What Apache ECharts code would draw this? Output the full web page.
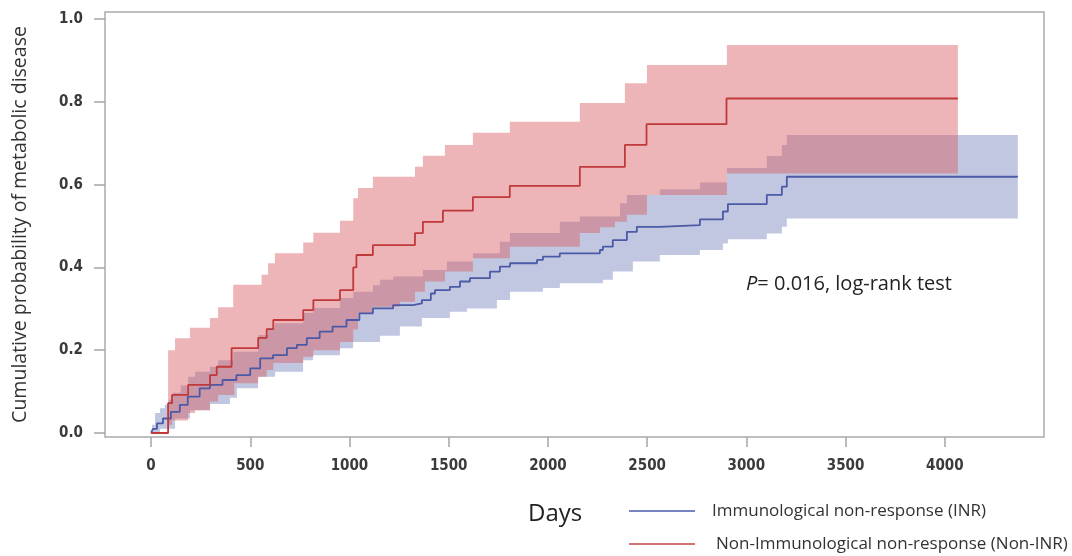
<!DOCTYPE html>
<html>
<head>
<meta charset="utf-8">
<script src="https://cdn.jsdelivr.net/npm/echarts@6/dist/echarts.min.js"></script>
<style>html,body{margin:0;padding:0;background:#fff}#main{width:1072px;height:556px}</style>
</head>
<body>
<div id="main"></div>
<script>
// tick labels
var xTicks = [0, 500, 1000, 1500, 2000, 2500, 3000, 3500, 4000];
var yTicks = [0, 0.2, 0.4, 0.6, 0.8, 1.0];

// step points [day, cumulative probability]
var inrEst = [[0,0],[10,0.01],[30,0.023],[60,0.035],[100,0.051],[145,0.068],[185,0.088],[245,0.108],[297,0.116],[360,0.128],[430,0.14],[500,0.156],[550,0.18],[615,0.188],[685,0.205],[735,0.213],[785,0.229],[850,0.245],[915,0.257],[985,0.273],[1050,0.289],[1118,0.301],[1220,0.309],[1320,0.313],[1365,0.321],[1410,0.337],[1431,0.345],[1506,0.353],[1557,0.366],[1607,0.374],[1708,0.39],[1758,0.402],[1809,0.41],[1945,0.418],[1975,0.426],[2060,0.434],[2262,0.442],[2277,0.45],[2327,0.466],[2398,0.486],[2448,0.498],[2564,0.502],[2766,0.516],[2882,0.535],[2907,0.553],[3103,0.575],[3179,0.595],[3204,0.619],[4368,0.619]];
var inrUp = [[0,0],[5,0.02],[20,0.048],[45,0.06],[70,0.068],[90,0.08],[111,0.097],[150,0.115],[187,0.136],[222,0.148],[297,0.16],[338,0.176],[414,0.196],[540,0.237],[590,0.253],[624,0.265],[767,0.29],[818,0.302],[952,0.326],[1019,0.341],[1118,0.357],[1154,0.37],[1220,0.378],[1370,0.394],[1491,0.414],[1622,0.434],[1758,0.462],[1809,0.483],[2060,0.51],[2161,0.523],[2363,0.555],[2398,0.575],[2564,0.589],[2766,0.605],[2902,0.64],[3103,0.669],[3179,0.696],[3204,0.72],[4368,0.72]];
var inrLow = [[0,0],[45,0.01],[121,0.035],[196,0.055],[297,0.07],[398,0.085],[433,0.108],[539,0.136],[625,0.148],[766,0.176],[816,0.188],[952,0.205],[1018,0.22],[1154,0.235],[1254,0.257],[1365,0.278],[1506,0.293],[1592,0.301],[1743,0.321],[1809,0.341],[1975,0.35],[2060,0.362],[2277,0.37],[2327,0.39],[2428,0.414],[2564,0.43],[2766,0.442],[2882,0.458],[2907,0.468],[3103,0.482],[3179,0.498],[3204,0.518],[4368,0.518]];

var nonEst = [[0,0],[86,0.072],[106,0.092],[187,0.116],[297,0.14],[331,0.16],[406,0.205],[540,0.23],[583,0.251],[616,0.273],[767,0.297],[818,0.321],[952,0.345],[1019,0.40],[1035,0.43],[1118,0.454],[1330,0.483],[1370,0.51],[1471,0.537],[1622,0.57],[1808,0.597],[2161,0.643],[2388,0.696],[2497,0.746],[2900,0.808],[4066,0.808]];
var nonUp = [[0,0],[86,0.2],[121,0.229],[196,0.254],[297,0.278],[338,0.304],[414,0.358],[557,0.382],[590,0.41],[624,0.434],[767,0.46],[818,0.484],[952,0.513],[1019,0.567],[1043,0.592],[1118,0.619],[1330,0.643],[1370,0.67],[1481,0.696],[1622,0.725],[1808,0.752],[2161,0.797],[2388,0.845],[2499,0.889],[2902,0.937],[4066,0.937]];
var nonLow = [[0,0],[86,0.02],[106,0.03],[187,0.048],[222,0.055],[297,0.076],[338,0.092],[420,0.12],[540,0.136],[583,0.152],[616,0.169],[767,0.184],[818,0.2],[952,0.22],[1019,0.25],[1043,0.29],[1118,0.305],[1254,0.317],[1330,0.341],[1380,0.366],[1481,0.39],[1622,0.422],[1808,0.45],[2161,0.483],[2262,0.497],[2338,0.51],[2398,0.527],[2499,0.575],[2902,0.627],[4066,0.627]];

var nameInr = 'Immunological non-response (INR)';
var nameNon = 'Non-Immunological non-response (Non-INR)';

var myChart = echarts.init(document.getElementById('main'));

// confidence band as a stepped polygon: upper edge forward, lower edge back
function band(low, up, color) {
    return {
        type: 'custom',
        silent: true,
        data: [[0, 0]],
        renderItem: function (params, api) {
            var pts = [];
            for (var i = 0; i < up.length; i++) {
                if (i > 0) pts.push(api.coord([up[i][0], up[i - 1][1]]));
                pts.push(api.coord(up[i]));
            }
            for (var j = low.length - 1; j >= 0; j--) {
                pts.push(api.coord(low[j]));
                if (j > 0) pts.push(api.coord([low[j][0], low[j - 1][1]]));
            }
            return {type: 'polygon', shape: {points: pts}, style: {fill: color}};
        }
    };
}

var txtFont = '"Open Sans", "Noto Sans", sans-serif';
var tickFont = '"Liberation Sans Narrow", "DejaVu Sans Condensed", sans-serif';

function legendAt(name, top, color, pad) {
    return {
        data: [name],
        left: 624, top: top,
        icon: 'rect',
        itemWidth: 66, itemHeight: 2,
        itemStyle: {color: color},
        selectedMode: false,
        textStyle: {fontSize: 17, color: '#333', fontFamily: txtFont, lineHeight: 18, padding: [0, 0, 0, pad]}
    };
}

var option = {
    animation: false,
    grid: {
        left: 105, right: 28, top: 12, bottom: 119,
        show: true, borderColor: '#ababab', borderWidth: 1.5
    },
    xAxis: {
        type: 'value',
        min: -232, max: 4500,
        splitLine: {show: false},
        axisLine: {show: false, onZero: false},
        axisTick: {show: true, customValues: xTicks, length: 10, lineStyle: {color: '#a5a5a5', width: 1.5}},
        axisLabel: {
            customValues: xTicks, margin: 22, fontSize: 15, fontWeight: 'bold', color: '#3a3a3a', fontFamily: tickFont,
            formatter: function (v) { return String(v); }
        }
    },
    yAxis: {
        type: 'value',
        min: -0.0097, max: 1.017,
        splitLine: {show: false},
        axisLine: {show: false, onZero: false},
        axisTick: {show: true, customValues: yTicks, length: 11, lineStyle: {color: '#a5a5a5', width: 1.5}},
        axisLabel: {
            customValues: yTicks, margin: 22, fontSize: 15, fontWeight: 'bold', color: '#3a3a3a', fontFamily: tickFont,
            formatter: function (v) { return v.toFixed(1); }
        },
        name: 'Cumulative probability of metabolic disease',
        nameLocation: 'middle',
        nameGap: 75,
        nameTextStyle: {fontSize: 19.5, color: '#333', fontFamily: txtFont}
    },
    legend: [
        legendAt(nameInr, 497, '#7884c2', 12),
        legendAt(nameNon, 530, '#d07474', 16)
    ],
    graphic: [
        {type: 'text', left: 528, top: 502, style: {text: 'Days', fontSize: 24, fill: '#222', fontFamily: txtFont}},
        {type: 'text', left: 746, top: 274, style: {
            text: '{i|P}= 0.016, log-rank test',
            fontSize: 20, fill: '#222', fontFamily: txtFont,
            rich: {i: {fontStyle: 'italic', fontSize: 20, fontFamily: txtFont, fill: '#222'}}
        }}
    ],
    series: [
        band(inrLow, inrUp, 'rgba(80,95,170,0.35)'),
        band(nonLow, nonUp, 'rgba(215,90,95,0.45)'),
        {
            name: nameInr,
            type: 'line', step: 'end', symbol: 'none',
            color: '#4b5aa6',
            lineStyle: {width: 1.8, color: '#4b5aa6'},
            data: inrEst
        },
        {
            name: nameNon,
            type: 'line', step: 'end', symbol: 'none',
            color: '#c0393b',
            lineStyle: {width: 1.8, color: '#c0393b'},
            data: nonEst
        }
    ]
};

myChart.setOption(option);
</script>
</body>
</html>
